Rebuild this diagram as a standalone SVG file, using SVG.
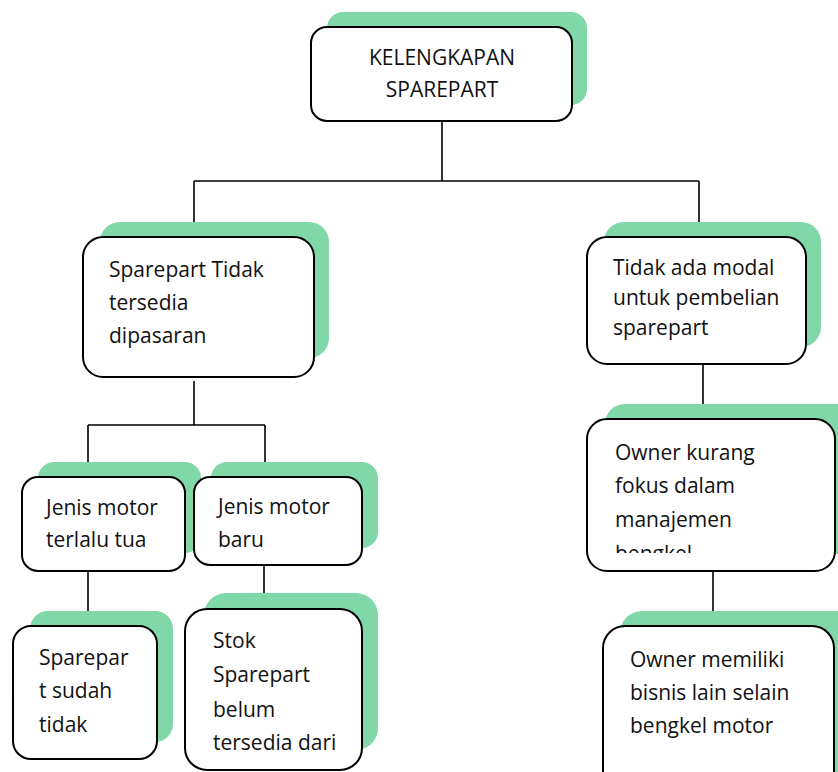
<svg xmlns="http://www.w3.org/2000/svg" width="838" height="772" viewBox="0 0 838 772">
<style>
.sh{fill:#80D7A7;}
.bx{fill:#ffffff;stroke:#000000;stroke-width:2;}
.t{font-family:"Open Sans","Noto Sans",sans-serif;font-size:21px;fill:#111111;}
.ln{stroke:#000000;stroke-width:1.6;fill:none;}
</style>
<defs>
<clipPath id="clip6"><rect x="587" y="419" width="250" height="134"/></clipPath>
</defs>
<rect width="838" height="772" fill="#ffffff"/>
<g id="connectors">
<path class="ln" d="M442 121 V181 M194 181 H699 M194 181 V237 M699 181 V237"/>
<path class="ln" d="M194 381 V425 M88 425 H265 M88 425 V477 M265 425 V477"/>
<path class="ln" d="M88 571 V626 M264 565 V609"/>
<path class="ln" d="M703 365 V419 M713 571 V626"/>
</g>
<g id="n1">
<rect class="sh" x="327" y="12" width="260" height="93" rx="16"/>
<rect class="bx" x="311" y="27" width="261" height="94" rx="16"/>
<text class="t" x="442" y="65" text-anchor="middle">KELENGKAPAN</text>
<text class="t" x="442" y="97" text-anchor="middle">SPAREPART</text>
</g>
<g id="n2">
<rect class="sh" x="100" y="222" width="229" height="136" rx="20"/>
<rect class="bx" x="83" y="237" width="231" height="140" rx="20"/>
<text class="t" x="109" y="277">Sparepart Tidak</text>
<text class="t" x="109" y="310">tersedia</text>
<text class="t" x="109" y="343">dipasaran</text>
</g>
<g id="n3">
<rect class="sh" x="604" y="222" width="217" height="125" rx="20"/>
<rect class="bx" x="587" y="237" width="219" height="127" rx="20"/>
<text class="t" x="613" y="275">Tidak ada modal</text>
<text class="t" x="613" y="305">untuk pembelian</text>
<text class="t" x="613" y="335">sparepart</text>
</g>
<g id="n4">
<rect class="sh" x="38" y="462" width="163" height="91" rx="16"/>
<rect class="bx" x="22" y="477" width="163" height="94" rx="16"/>
<text class="t" x="46" y="515">Jenis motor</text>
<text class="t" x="46" y="547">terlalu tua</text>
</g>
<g id="n5">
<rect class="sh" x="211" y="462" width="167" height="86" rx="16"/>
<rect class="bx" x="194" y="477" width="168" height="88" rx="16"/>
<text class="t" x="218" y="514">Jenis motor</text>
<text class="t" x="218" y="547">baru</text>
</g>
<g id="n6">
<rect class="sh" x="605" y="404" width="260" height="150" rx="20"/>
<rect class="bx" x="587" y="419" width="248" height="152" rx="20"/>
<g clip-path="url(#clip6)">
<text class="t" x="615" y="460">Owner kurang</text>
<text class="t" x="615" y="493">fokus dalam</text>
<text class="t" x="615" y="527">manajemen</text>
<text class="t" x="615" y="561">bengkel</text>
</g>
</g>
<g id="n7">
<rect class="sh" x="30" y="611" width="143" height="131" rx="18"/>
<rect class="bx" x="13" y="626" width="144" height="133" rx="18"/>
<text class="t" x="39" y="665">Sparepar</text>
<text class="t" x="39" y="698">t sudah</text>
<text class="t" x="39" y="732">tidak</text>
</g>
<g id="n8">
<rect class="sh" x="204" y="593" width="174" height="157" rx="22"/>
<rect class="bx" x="185" y="609" width="177" height="161" rx="22"/>
<text class="t" x="213" y="648">Stok</text>
<text class="t" x="213" y="682">Sparepart</text>
<text class="t" x="213" y="717">belum</text>
<text class="t" x="213" y="750">tersedia dari</text>
</g>
<g id="n9">
<rect class="sh" x="620" y="611" width="240" height="180" rx="22"/>
<rect class="bx" x="603" y="626" width="231" height="170" rx="22"/>
<text class="t" x="630" y="667">Owner memiliki</text>
<text class="t" x="630" y="700">bisnis lain selain</text>
<text class="t" x="630" y="733">bengkel motor</text>
</g>
</svg>
